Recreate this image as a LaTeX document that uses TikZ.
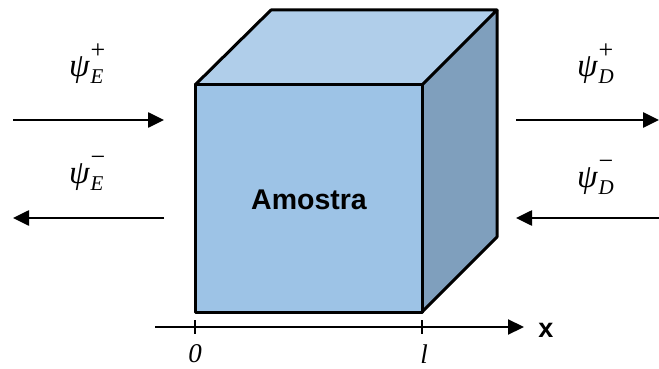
\documentclass[tikz,border=0pt]{standalone}
\usepackage{fontspec}
\setsansfont{Liberation Sans}
\newfontfamily\timesit{Liberation Serif}
\usetikzlibrary{arrows.meta}
\newcommand\wavelbl[2]{{\timesit\itshape\fontsize{33}{34}\selectfont ψ}\kern1pt\rlap{\raisebox{18pt}{\timesit\fontsize{26}{26}\selectfont #2}}\raisebox{-7pt}{\timesit\itshape\fontsize{21}{22}\selectfont #1}\kern4pt}
\begin{document}
\begin{tikzpicture}[x=1pt,y=-1pt,
  edge/.style={draw=black,line width=3pt,line join=round},
  flow/.style={line width=2.6pt,-{Triangle[length=16pt,width=15pt]}},
  lbl/.style={inner sep=0pt,anchor=base west},
  tick/.style={line width=2.2pt}]
\useasboundingbox (0,0) rectangle (659,369);
\definecolor{frontc}{RGB}{157,195,230}
\definecolor{topc}{RGB}{176,206,234}
\definecolor{sidec}{RGB}{127,159,189}
% cube corners
\coordinate (fa) at (195,85);
\coordinate (fb) at (422,85);
\coordinate (fc) at (422,312);
\coordinate (fd) at (195,312);
\coordinate (ta) at (271,10);
\coordinate (tb) at (497,10);
\coordinate (tc) at (497,237);
\fill[topc] (fa) -- (ta) -- (tb) -- (fb) -- cycle;
\fill[sidec] (fb) -- (tb) -- (tc) -- (fc) -- cycle;
\fill[frontc] (fa) rectangle (fc);
\draw[edge] (fa) -- (ta) -- (tb) -- (fb);
\draw[edge] (tb) -- (tc) -- (fc);
\draw[edge] (fa) rectangle (fc);
\node[font=\sffamily\bfseries\fontsize{28.5}{32}\selectfont] (am) at (309,200) {Amostra};
% arrows
\coordinate (l1a) at (13,120); \coordinate (l1b) at (164,120);
\coordinate (l2a) at (164,218); \coordinate (l2b) at (13,218);
\coordinate (r1a) at (516,120); \coordinate (r1b) at (659,120);
\coordinate (r2a) at (659,218); \coordinate (r2b) at (516,218);
\draw[flow] (l1a) -- (l1b);
\draw[flow] (l2a) -- (l2b);
\draw[flow] (r1a) -- (r1b);
\draw[flow] (r2a) -- (r2b);
\node[lbl] (pep) at (69,77) {\wavelbl{E}{+}};
\node[lbl] (pem) at (69,183) {\wavelbl{E}{−}};
\node[lbl] (pdp) at (577,77) {\wavelbl{D}{+}};
\node[lbl] (pdm) at (577,187) {\wavelbl{D}{−}};
% axis
\coordinate (ax0) at (155,327); \coordinate (ax1) at (524,327);
\draw[flow,line width=2.2pt] (ax0) -- (ax1);
\draw[tick] (195,320) -- (195,334);
\draw[tick] (422,320) -- (422,334);
\node[font=\sffamily\bfseries\fontsize{27}{30}\selectfont] (xl) at (546,330) {x};
\node[font=\timesit\itshape\fontsize{27}{28}\selectfont,inner sep=0pt] (z0) at (195,354) {0};
\node[font=\timesit\itshape\fontsize{27}{28}\selectfont,inner sep=0pt] (zl) at (424,354) {l};
\end{tikzpicture}
\end{document}
